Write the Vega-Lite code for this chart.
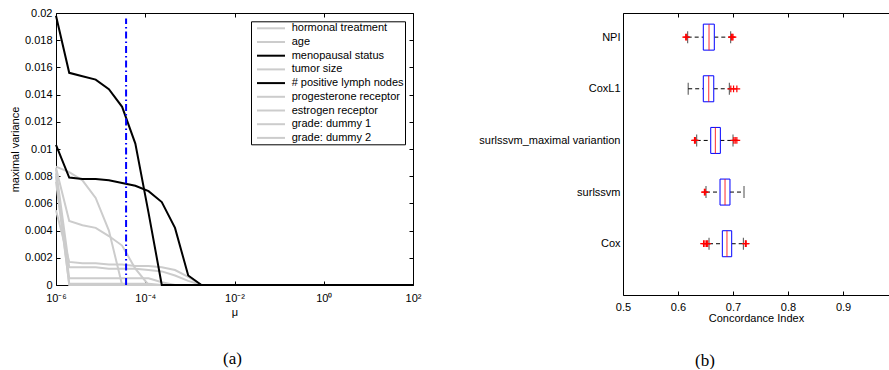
{
  "$schema": "https://vega.github.io/schema/vega-lite/v6.json",
  "padding": {"left": 8, "top": 6, "right": 0, "bottom": 0},
  "spacing": 210,
  "bounds": "flush",
  "config": {
    "font": "Liberation Sans",
    "view": {"stroke": "#000", "strokeWidth": 1},
    "axis": {
      "labelFont": "Liberation Sans", "labelFontSize": 11, "labelColor": "#000",
      "titleFont": "Liberation Sans", "titleFontSize": 11, "titleFontWeight": "normal", "titleColor": "#000",
      "domainColor": "#000", "tickColor": "#000", "grid": false, "labelFlush": false,
      "tickSize": 4, "labelPadding": 4, "domainWidth": 1, "tickWidth": 1
    }
  },
  "hconcat": [
    {
      "width": 357,
      "height": 272,
      "title": {"text": "(a)", "orient": "bottom", "font": "Liberation Serif", "fontSize": 17, "fontWeight": "normal", "color": "#000", "offset": 34, "dx": -2},
      "resolve": {"axis": {"x": "independent", "y": "independent"}},
      "layer": [
        {
          "data": {"values": [
            {"f": "hormonal treatment", "mu": 1e-6, "v": 0.0087},
            {"f": "hormonal treatment", "mu": 1.978e-6, "v": 0.0083},
            {"f": "hormonal treatment", "mu": 3.914e-6, "v": 0.0077},
            {"f": "hormonal treatment", "mu": 7.743e-6, "v": 0.0064},
            {"f": "hormonal treatment", "mu": 1.532e-5, "v": 0.0040},
            {"f": "hormonal treatment", "mu": 3.030e-5, "v": 0},
            {"f": "hormonal treatment", "mu": 100, "v": 0},
            {"f": "age", "mu": 1e-6, "v": 0.0086},
            {"f": "age", "mu": 1.978e-6, "v": 0.0047},
            {"f": "age", "mu": 3.914e-6, "v": 0.0044},
            {"f": "age", "mu": 7.743e-6, "v": 0.0042},
            {"f": "age", "mu": 1.532e-5, "v": 0.0036},
            {"f": "age", "mu": 3.030e-5, "v": 0.0029},
            {"f": "age", "mu": 5.995e-5, "v": 0.0012},
            {"f": "age", "mu": 1.186e-4, "v": 0},
            {"f": "age", "mu": 100, "v": 0},
            {"f": "tumor size", "mu": 1e-6, "v": 0.0055},
            {"f": "tumor size", "mu": 1.978e-6, "v": 0.0017},
            {"f": "tumor size", "mu": 3.914e-6, "v": 0.0016},
            {"f": "tumor size", "mu": 7.743e-6, "v": 0.0016},
            {"f": "tumor size", "mu": 1.532e-5, "v": 0.0015},
            {"f": "tumor size", "mu": 3.030e-5, "v": 0.0015},
            {"f": "tumor size", "mu": 5.995e-5, "v": 0.0014},
            {"f": "tumor size", "mu": 1.186e-4, "v": 0.0014},
            {"f": "tumor size", "mu": 2.346e-4, "v": 0.0013},
            {"f": "tumor size", "mu": 4.642e-4, "v": 0.0011},
            {"f": "tumor size", "mu": 9.183e-4, "v": 0.0006},
            {"f": "tumor size", "mu": 1.817e-3, "v": 0},
            {"f": "tumor size", "mu": 100, "v": 0},
            {"f": "progesterone receptor", "mu": 1e-6, "v": 0.0085},
            {"f": "progesterone receptor", "mu": 1.978e-6, "v": 0.0013},
            {"f": "progesterone receptor", "mu": 3.914e-6, "v": 0.0013},
            {"f": "progesterone receptor", "mu": 7.743e-6, "v": 0.0013},
            {"f": "progesterone receptor", "mu": 1.532e-5, "v": 0.0012},
            {"f": "progesterone receptor", "mu": 3.030e-5, "v": 0.0012},
            {"f": "progesterone receptor", "mu": 5.995e-5, "v": 0.0012},
            {"f": "progesterone receptor", "mu": 1.186e-4, "v": 0.0011},
            {"f": "progesterone receptor", "mu": 2.346e-4, "v": 0.0010},
            {"f": "progesterone receptor", "mu": 4.642e-4, "v": 0.0007},
            {"f": "progesterone receptor", "mu": 9.183e-4, "v": 0.0003},
            {"f": "progesterone receptor", "mu": 1.817e-3, "v": 0},
            {"f": "progesterone receptor", "mu": 100, "v": 0},
            {"f": "estrogen receptor", "mu": 1e-6, "v": 0.0080},
            {"f": "estrogen receptor", "mu": 1.978e-6, "v": 0.0005},
            {"f": "estrogen receptor", "mu": 3.914e-6, "v": 0.0005},
            {"f": "estrogen receptor", "mu": 7.743e-6, "v": 0.0005},
            {"f": "estrogen receptor", "mu": 1.532e-5, "v": 0.0005},
            {"f": "estrogen receptor", "mu": 3.030e-5, "v": 0.0005},
            {"f": "estrogen receptor", "mu": 5.995e-5, "v": 0.0005},
            {"f": "estrogen receptor", "mu": 1.186e-4, "v": 0.0005},
            {"f": "estrogen receptor", "mu": 2.346e-4, "v": 0.0002},
            {"f": "estrogen receptor", "mu": 4.642e-4, "v": 0},
            {"f": "estrogen receptor", "mu": 100, "v": 0},
            {"f": "grade: dummy 1", "mu": 1e-6, "v": 0.0076},
            {"f": "grade: dummy 1", "mu": 1.978e-6, "v": 0.0001},
            {"f": "grade: dummy 1", "mu": 3.914e-6, "v": 0.0001},
            {"f": "grade: dummy 1", "mu": 7.743e-6, "v": 0.0001},
            {"f": "grade: dummy 1", "mu": 1.532e-5, "v": 0.0001},
            {"f": "grade: dummy 1", "mu": 3.030e-5, "v": 0.0001},
            {"f": "grade: dummy 1", "mu": 5.995e-5, "v": 0.0001},
            {"f": "grade: dummy 1", "mu": 1.186e-4, "v": 0.0001},
            {"f": "grade: dummy 1", "mu": 2.346e-4, "v": 0},
            {"f": "grade: dummy 1", "mu": 100, "v": 0},
            {"f": "grade: dummy 2", "mu": 1e-6, "v": 0.0082},
            {"f": "grade: dummy 2", "mu": 1.978e-6, "v": 0},
            {"f": "grade: dummy 2", "mu": 100, "v": 0},
            {"f": "menopausal status", "mu": 1e-6, "v": 0.0103},
            {"f": "menopausal status", "mu": 1.978e-6, "v": 0.0079},
            {"f": "menopausal status", "mu": 3.914e-6, "v": 0.0078},
            {"f": "menopausal status", "mu": 7.743e-6, "v": 0.0078},
            {"f": "menopausal status", "mu": 1.532e-5, "v": 0.0077},
            {"f": "menopausal status", "mu": 3.030e-5, "v": 0.0075},
            {"f": "menopausal status", "mu": 5.995e-5, "v": 0.0073},
            {"f": "menopausal status", "mu": 1.186e-4, "v": 0.0069},
            {"f": "menopausal status", "mu": 2.346e-4, "v": 0.0061},
            {"f": "menopausal status", "mu": 4.642e-4, "v": 0.0042},
            {"f": "menopausal status", "mu": 9.183e-4, "v": 0.0007},
            {"f": "menopausal status", "mu": 1.817e-3, "v": 0},
            {"f": "menopausal status", "mu": 100, "v": 0},
            {"f": "# positive lymph nodes", "mu": 1e-6, "v": 0.0198},
            {"f": "# positive lymph nodes", "mu": 1.978e-6, "v": 0.0156},
            {"f": "# positive lymph nodes", "mu": 3.914e-6, "v": 0.01535},
            {"f": "# positive lymph nodes", "mu": 7.743e-6, "v": 0.0151},
            {"f": "# positive lymph nodes", "mu": 1.532e-5, "v": 0.0144},
            {"f": "# positive lymph nodes", "mu": 3.030e-5, "v": 0.0131},
            {"f": "# positive lymph nodes", "mu": 5.995e-5, "v": 0.0104},
            {"f": "# positive lymph nodes", "mu": 1.186e-4, "v": 0.0053},
            {"f": "# positive lymph nodes", "mu": 2.346e-4, "v": 0},
            {"f": "# positive lymph nodes", "mu": 100, "v": 0}
          ]},
          "mark": {"type": "line", "strokeWidth": 2},
          "encoding": {
            "x": {
              "field": "mu", "type": "quantitative",
              "scale": {"type": "log", "domain": [1e-6, 100], "nice": false},
              "axis": {
                "orient": "bottom", "title": "μ", "titlePadding": 3, "ticks": false, "domain": false,
                "values": [1e-6, 1e-4, 1e-2, 1, 100],
                "labelExpr": "datum.value < 1e-5 ? '10⁻⁶' : datum.value < 1e-3 ? '10⁻⁴' : datum.value < 0.1 ? '10⁻²' : datum.value < 10 ? '10⁰' : '10²'",
                "labelPadding": 7
              }
            },
            "y": {
              "field": "v", "type": "quantitative",
              "scale": {"domain": [0, 0.02], "nice": false},
              "axis": {
                "orient": "left", "title": "maximal variance", "titlePadding": 4, "ticks": false, "domain": false,
                "values": [0, 0.002, 0.004, 0.006, 0.008, 0.01, 0.012, 0.014, 0.016, 0.018, 0.02],
                "format": "~g", "labelPadding": 4
              }
            },
            "color": {
              "field": "f", "type": "nominal",
              "scale": {
                "domain": ["hormonal treatment", "age", "menopausal status", "tumor size", "# positive lymph nodes", "progesterone receptor", "estrogen receptor", "grade: dummy 1", "grade: dummy 2"],
                "range": ["#cccccc", "#cccccc", "#000000", "#cccccc", "#000000", "#cccccc", "#cccccc", "#cccccc", "#cccccc"]
              },
              "legend": {
                "orient": "none", "legendX": 195, "legendY": 8.3, "title": null,
                "symbolType": "M-2.8,0H2.8", "symbolSize": 100, "symbolStrokeWidth": 2,
                "labelFont": "Liberation Sans", "labelFontSize": 11, "labelColor": "#000", "labelLimit": 300,
                "strokeColor": "#000", "fillColor": "#fff", "padding": 1, "rowPadding": 2.7,
                "labelOffset": 14.7, "symbolOffset": 13
              }
            }
          }
        },
        {
          "data": {"values": [{"mu": 3.72e-5, "lo": 0, "hi": 0.0196}]},
          "mark": {"type": "rule", "color": "#0000ff", "strokeWidth": 2, "strokeDash": [7, 3, 1.5, 3]},
          "encoding": {
            "x": {"field": "mu", "type": "quantitative", "axis": {"orient": "bottom", "offset": -4, "labels": false, "domain": false, "title": null, "values": [1e-6, 1e-4, 1e-2, 1, 100]}},
            "y": {"field": "lo", "type": "quantitative", "axis": {"orient": "left", "offset": -4, "labels": false, "domain": false, "title": null, "values": [0, 0.002, 0.004, 0.006, 0.008, 0.01, 0.012, 0.014, 0.016, 0.018, 0.02]}},
            "y2": {"field": "hi"}
          }
        },
        {
          "data": {"values": [{"mu": 1e-6, "v": 0}]},
          "mark": {"type": "point", "opacity": 0},
          "encoding": {
            "x": {"field": "mu", "type": "quantitative", "axis": {"orient": "top", "offset": -4, "labels": false, "domain": false, "title": null, "values": [1e-6, 1e-4, 1e-2, 1, 100]}},
            "y": {"field": "v", "type": "quantitative", "axis": {"orient": "right", "offset": -4, "labels": false, "domain": false, "title": null, "values": [0, 0.002, 0.004, 0.006, 0.008, 0.01, 0.012, 0.014, 0.016, 0.018, 0.02]}}
          }
        }
      ]
    },
    {
      "width": 266,
      "height": 282,
      "view": {"stroke": null},
      "title": {"text": "(b)", "orient": "bottom", "font": "Liberation Serif", "fontSize": 17, "fontWeight": "normal", "color": "#000", "offset": 30, "dx": -51},
      "resolve": {"axis": {"x": "independent", "y": "independent"}},
      "data": {"values": [
        {"name": "NPI", "lo": 0.6176, "q1": 0.646, "med": 0.6564, "q3": 0.666, "hi": 0.6958},
        {"name": "CoxL1", "lo": 0.6185, "q1": 0.646, "med": 0.6558, "q3": 0.665, "hi": 0.6933},
        {"name": "surlssvm_maximal variantion", "lo": 0.634, "q1": 0.6595, "med": 0.668, "q3": 0.677, "hi": 0.7},
        {"name": "surlssvm", "lo": 0.6509, "q1": 0.6764, "med": 0.6855, "q3": 0.6945, "hi": 0.72},
        {"name": "Cox", "lo": 0.6564, "q1": 0.6806, "med": 0.689, "q3": 0.6976, "hi": 0.7188}
      ]},
      "layer": [
        {
          "mark": {"type": "rule", "color": "#000", "strokeWidth": 1, "strokeDash": [4, 3]},
          "encoding": {
            "x": {
              "field": "lo", "type": "quantitative",
              "scale": {"domain": [0.5, 0.9836], "nice": false, "zero": false},
              "axis": {"orient": "bottom", "title": "Concordance Index", "titlePadding": 0, "ticks": false, "domain": true, "labelPadding": 6, "values": [0.5, 0.6, 0.7, 0.8, 0.9], "format": ".1f"}
            },
            "x2": {"field": "q1"},
            "y": {
              "field": "name", "type": "nominal", "sort": null,
              "scale": {"type": "point", "domain": ["NPI", "CoxL1", "surlssvm_maximal variantion", "surlssvm", "Cox"], "padding": 0.73, "align": 0.32},
              "axis": {"orient": "left", "title": null, "ticks": false, "domain": true, "labelPadding": 3}
            }
          }
        },
        {
          "mark": {"type": "rule", "color": "#000", "strokeWidth": 1, "strokeDash": [4, 3]},
          "encoding": {
            "x": {"field": "q3", "type": "quantitative", "axis": {"orient": "bottom", "offset": -4, "labels": false, "domain": false, "title": null, "values": [0.5, 0.6, 0.7, 0.8, 0.9]}},
            "x2": {"field": "hi"},
            "y": {"field": "name", "type": "nominal", "sort": null, "axis": null}
          }
        },
        {
          "mark": {"type": "tick", "orient": "vertical", "color": "#000", "size": 12, "thickness": 1},
          "encoding": {
            "x": {"field": "lo", "type": "quantitative", "axis": {"orient": "top", "labels": false, "ticks": false, "domain": true, "title": null}},
            "y": {"field": "name", "type": "nominal", "sort": null, "axis": null}
          }
        },
        {
          "mark": {"type": "tick", "orient": "vertical", "color": "#000", "size": 12, "thickness": 1},
          "encoding": {
            "x": {"field": "hi", "type": "quantitative", "axis": {"orient": "top", "offset": -4, "labels": false, "domain": false, "title": null, "values": [0.5, 0.6, 0.7, 0.8, 0.9]}},
            "y": {"field": "name", "type": "nominal", "sort": null, "axis": null}
          }
        },
        {
          "mark": {"type": "bar", "size": 26, "fill": "#ffffff", "stroke": "#0000ff", "strokeWidth": 1},
          "encoding": {
            "x": {"field": "q1", "type": "quantitative", "axis": null},
            "x2": {"field": "q3"},
            "y": {"field": "name", "type": "nominal", "sort": null, "axis": null}
          }
        },
        {
          "mark": {"type": "tick", "orient": "vertical", "color": "#ff0000", "size": 26, "thickness": 1.2},
          "encoding": {
            "x": {"field": "med", "type": "quantitative", "axis": null},
            "y": {"field": "name", "type": "nominal", "sort": null, "axis": null}
          }
        },
        {
          "data": {"values": [
            {"name": "NPI", "x": 0.614}, {"name": "NPI", "x": 0.6158},
            {"name": "NPI", "x": 0.697}, {"name": "NPI", "x": 0.6985}, {"name": "NPI", "x": 0.7},
            {"name": "CoxL1", "x": 0.696}, {"name": "CoxL1", "x": 0.701}, {"name": "CoxL1", "x": 0.707},
            {"name": "surlssvm_maximal variantion", "x": 0.630}, {"name": "surlssvm_maximal variantion", "x": 0.6315},
            {"name": "surlssvm_maximal variantion", "x": 0.7015}, {"name": "surlssvm_maximal variantion", "x": 0.704}, {"name": "surlssvm_maximal variantion", "x": 0.707},
            {"name": "surlssvm", "x": 0.648}, {"name": "surlssvm", "x": 0.6495},
            {"name": "Cox", "x": 0.6465}, {"name": "Cox", "x": 0.649}, {"name": "Cox", "x": 0.652}, {"name": "Cox", "x": 0.654},
            {"name": "Cox", "x": 0.7225}, {"name": "Cox", "x": 0.724}
          ]},
          "mark": {"type": "point", "shape": "M-1,0H1M0,-1V1", "size": 45, "filled": false, "stroke": "#ff0000", "strokeWidth": 1.2, "opacity": 1},
          "encoding": {
            "x": {"field": "x", "type": "quantitative", "axis": null},
            "y": {"field": "name", "type": "nominal", "sort": null, "axis": null}
          }
        }
      ]
    }
  ]
}
